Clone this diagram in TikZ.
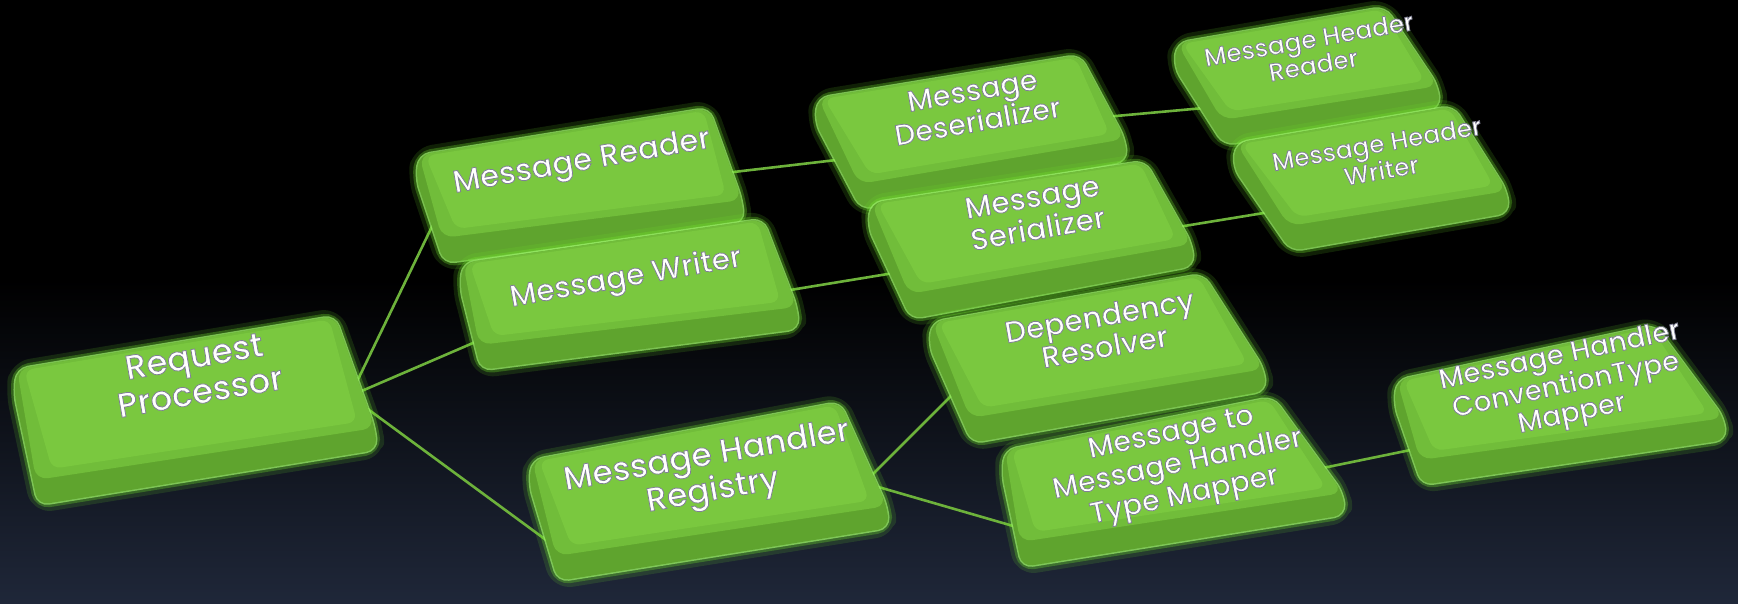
\documentclass[tikz,border=0pt]{standalone}
\usepackage{fontspec}
\IfFontExistsTF{Poppins Medium}{\setmainfont{Poppins Medium}}{\setmainfont{Poppins}}
\usetikzlibrary{calc}
\definecolor{topc}{HTML}{7AC83F}
\definecolor{bevelc}{HTML}{71BD3A}
\definecolor{sidec}{HTML}{5FA42E}
\definecolor{glowc}{HTML}{72E62C}
\definecolor{linkc}{HTML}{6DB23B}
\definecolor{bgb}{HTML}{1F2739}
\newcommand\emb{\special{pdf:literal direct 2 Tr 0.8 w 0.5 0.5 0.58 RG}}
\newcommand\fs[2]{\fontsize{#1}{#2}\selectfont}
\tikzset{
  lbl/.style={text=white, align=center, rotate=10, inner sep=0pt},
  link/.style={draw=linkc, line width=2.6pt},
  glowa/.style={draw=glowc, line width=16pt, opacity=.14, line join=round},
  glowb/.style={draw=glowc, line width=8pt, opacity=.3, line join=round},
  glowd/.style={draw=glowc!70!white, line width=3pt, opacity=.7, line join=round},
}
% name, TL, TR, BR, BL
\newcommand\gbox[5]{%
  \coordinate (#1-a) at #2; \coordinate (#1-b) at #3;
  \coordinate (#1-c) at #4; \coordinate (#1-d) at #5;
  \coordinate (#1-a2) at ($(#1-a)+(-3,24)$);
  \coordinate (#1-c2) at ($(#1-c)+(2,22)$);
  \coordinate (#1-d2) at ($(#1-d)+(2,25)$);
  \coordinate (#1-m) at ($(#1-a)!.5!(#1-c)$);
  \draw[glowa, rounded corners=14pt] (#1-a) -- (#1-b) -- (#1-c) -- (#1-c2) -- (#1-d2) -- (#1-a2) -- cycle;
  \draw[glowb, rounded corners=12pt] (#1-a) -- (#1-b) -- (#1-c) -- (#1-c2) -- (#1-d2) -- (#1-a2) -- cycle;
  \draw[glowd, rounded corners=11pt] (#1-a) -- (#1-b) -- (#1-c) -- (#1-c2) -- (#1-d2) -- (#1-a2) -- cycle;
  \fill[sidec, rounded corners=11pt] (#1-a) -- (#1-b) -- (#1-c) -- (#1-c2) -- (#1-d2) -- (#1-a2) -- cycle;
  \fill[bevelc, rounded corners=12pt] (#1-a) -- (#1-b) -- (#1-c) -- (#1-d) -- cycle;
  \fill[topc, rounded corners=9pt] ($(#1-a)!.04!(#1-m)$) -- ($(#1-b)!.04!(#1-m)$) -- ($(#1-c)!.10!(#1-m)+(0,-3)$) -- ($(#1-d)!.10!(#1-m)+(0,-3)$) -- cycle;
}
\begin{document}
\begin{tikzpicture}[x=1pt,y=-1pt]
\useasboundingbox (0,0) rectangle (1738,604);
\fill[black] (0,0) rectangle (1738,281);
\shade[top color=black, bottom color=bgb] (0,280) rectangle (1738,604);

% connector end points
\coordinate (rp-o) at (350,396);
\coordinate (mr-i) at (440,210);
\coordinate (mw-i) at (487,337);
\coordinate (rg-i) at (557,548);
\coordinate (mr-o) at (725,173);
\coordinate (ds-i) at (845,159);
\coordinate (mw-o) at (778,292);
\coordinate (sr-i) at (900,272);
\coordinate (ds-o) at (1105,117);
\coordinate (hr-i) at (1215,107);
\coordinate (sr-o) at (1172,228);
\coordinate (hw-i) at (1276,211);
\coordinate (rg-o1) at (866,481);
\coordinate (dp-i) at (960,387);
\coordinate (rg-o2) at (868,484);
\coordinate (mp-i) at (1027,530);
\coordinate (mp-o) at (1318,469);
\coordinate (cv-i) at (1430,446);

\draw[link] (rp-o) -- (mr-i);
\draw[link] (rp-o) -- (mw-i);
\draw[link] (rp-o) -- (rg-i);
\draw[link] (mr-o) -- (ds-i);
\draw[link] (mw-o) -- (sr-i);
\draw[link] (ds-o) -- (hr-i);
\draw[link] (sr-o) -- (hw-i);
\draw[link] (rg-o1) -- (dp-i);
\draw[link] (rg-o2) -- (mp-i);
\draw[link] (mp-o) -- (cv-i);

% boxes
\gbox{rp}{(17,369)}{(335,316)}{(375,428)}{(36,480)}
\node[lbl, font=\fs{34}{36}] (rp) at (197,374) {\emb Request\\\emb Processor};

\gbox{mr}{(419,155)}{(709,108)}{(742,200)}{(442,238)}
\node[lbl, font=\fs{31}{30}] (mr) at (582,163) {\emb Message Reader};

\gbox{mw}{(463,263)}{(763,219)}{(797,307)}{(479,345)}
\node[lbl, font=\fs{30}{30}] (mw) at (626,279) {\emb Message Writer};

\gbox{rg}{(532,460)}{(840,402)}{(887,506)}{(556,556)}
\node[lbl, font=\fs{33}{34}] (rg) at (710,475) {\emb Message Handler\\\emb Registry};

\gbox{ds}{(818,98)}{(1080,55)}{(1125,139)}{(859,184)}
\node[lbl, font=\fs{29}{30}] (ds) at (975,106) {\emb Message\\\emb Deserializer};

\gbox{sr}{(871,203)}{(1145,161)}{(1192,244)}{(909,294)}
\node[lbl, font=\fs{30}{30}] (sr) at (1035,213) {\emb Message\\\emb Serializer};

\gbox{dp}{(932,322)}{(1203,274)}{(1264,369)}{(970,418)}
\node[lbl, font=\fs{30}{31}] (dp) at (1102,331) {\emb Dependency\\\emb Resolver};

\gbox{mp}{(1005,450)}{(1273,397)}{(1343,493)}{(1020,542)}
\node[lbl, rotate=2, font=\fs{29}{32}] (mp) at (1178,466) {\emb Message to\\\emb Message Handler\\\emb Type Mapper};

\gbox{hr}{(1177,43)}{(1385,7)}{(1438,86)}{(1222,120)}
\node[lbl, font=\fs{25}{26}] (hr) at (1311,52) {\emb Message Header\\\emb Reader};

\gbox{hw}{(1236,143)}{(1453,106)}{(1507,191)}{(1289,226)}
\node[lbl, font=\fs{25}{26}] (hw) at (1379,157) {\emb Message Header\\\emb Writer};

\gbox{cv}{(1397,380)}{(1655,325)}{(1724,418)}{(1420,460)}
\node[lbl, rotate=2, font=\fs{28}{29}] (cv) at (1566,386) {\emb Message Handler\\\emb ConventionType\\\emb Mapper};
\end{tikzpicture}
\end{document}
